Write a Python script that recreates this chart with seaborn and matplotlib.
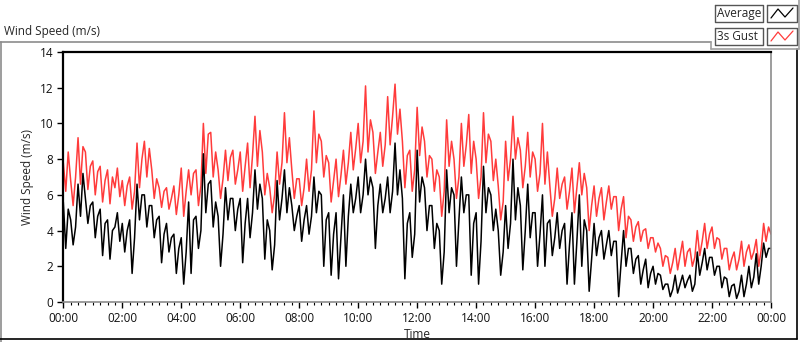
import numpy as np
import pandas as pd
import matplotlib.pyplot as plt
import seaborn as sns
from matplotlib.lines import Line2D
from matplotlib.ticker import MultipleLocator

# 3s gust, one value every 5 minutes (12 per hour), 00:00 -> 24:00
gust = [
    7.8, 6.2, 8.4, 6.8, 5.4, 7.0, 9.2, 6.6, 8.7, 8.4, 6.3, 7.6,
    7.9, 6.0, 7.3, 7.6, 5.6, 6.8, 7.4, 5.5, 7.0, 6.4, 7.5, 5.9,
    6.8, 5.4, 6.5, 7.0, 5.2, 6.2, 8.9, 6.4, 8.0, 9.0, 7.0, 8.6,
    7.4, 5.8, 6.9, 6.4, 5.3, 6.2, 6.4, 5.2, 5.8, 6.5, 4.9, 6.0,
    7.5, 4.8, 6.2, 7.4, 6.0, 7.2, 7.4, 5.4, 6.5, 10.0, 7.2, 9.4,
    9.5, 7.0, 8.4, 7.4, 5.8, 6.9, 8.5, 6.8, 8.1, 8.5, 6.6, 7.4,
    8.4, 6.2, 7.6, 8.9, 6.4, 8.2, 10.4, 7.6, 9.6, 8.4, 6.0, 7.2,
    6.4, 5.0, 6.0, 8.4, 6.6, 7.8, 10.6, 7.8, 9.2, 7.4, 5.8, 6.9,
    6.9, 5.4, 6.4, 8.0, 6.2, 7.4, 10.7, 7.8, 9.4, 9.0, 7.0, 8.2,
    7.8, 5.6, 6.8, 8.0, 5.9, 7.1, 8.5, 6.6, 7.8, 9.5, 7.4, 8.6,
    10.0, 7.8, 9.0, 12.1, 8.4, 10.2, 9.5, 7.2, 8.4, 9.5, 7.6, 8.8,
    11.5, 8.8, 10.4, 12.2, 9.4, 10.8, 9.0, 6.4, 8.2, 8.5, 6.2, 7.4,
    10.9, 8.2, 9.8, 9.0, 7.0, 8.2, 8.0, 6.2, 7.4, 7.0, 4.8, 6.2,
    10.2, 7.6, 9.0, 8.0, 5.8, 7.0, 10.0, 7.6, 8.8, 10.5, 7.2, 9.0,
    8.0, 5.8, 7.0, 10.6, 7.8, 9.4, 9.0, 6.8, 8.0, 6.5, 4.6, 5.6,
    9.0, 6.8, 8.0, 10.4, 8.0, 9.2, 8.5, 6.4, 7.6, 9.5, 7.0, 8.4,
    8.0, 6.2, 7.2, 10.0, 6.6, 8.4, 6.5, 4.8, 5.8, 7.5, 5.8, 6.6,
    7.0, 5.2, 6.2, 7.5, 5.0, 6.4, 7.8, 6.0, 7.2, 6.4, 4.0, 5.4,
    6.5, 4.8, 5.8, 6.4, 4.6, 5.6, 6.5, 5.2, 5.9, 5.9, 4.0, 5.2,
    5.9, 3.6, 4.8, 4.6, 3.4, 4.2, 4.5, 3.4, 4.0, 4.1, 3.0, 3.6,
    3.6, 2.8, 3.3, 3.0, 2.0, 2.6, 2.5, 1.6, 2.2, 3.0, 1.8, 2.6,
    3.4, 2.0, 2.8, 3.0, 2.0, 2.5, 4.0, 2.6, 3.4, 4.4, 3.0, 3.8,
    4.2, 3.0, 3.6, 3.5, 2.4, 3.0, 3.0, 1.8, 2.4, 2.8, 1.8, 2.4,
    3.4, 2.0, 2.8, 3.2, 2.4, 2.8, 3.5, 2.0, 2.9, 4.4, 3.4, 4.2,
    3.8,
]

# average wind speed, same time steps
average = [
    5.6, 3.0, 5.2, 4.6, 3.2, 4.2, 6.6, 4.8, 7.2, 5.8, 4.4, 5.4,
    5.6, 3.6, 4.8, 5.2, 2.6, 4.4, 4.6, 2.4, 4.0, 4.2, 5.0, 3.4,
    4.4, 2.8, 4.0, 4.6, 1.6, 3.6, 6.6, 4.6, 6.0, 6.0, 4.2, 5.4,
    5.4, 3.6, 4.6, 4.8, 2.2, 3.8, 4.4, 2.8, 3.6, 3.8, 1.6, 3.0,
    3.6, 1.0, 2.8, 5.6, 1.6, 4.6, 4.8, 3.0, 4.0, 8.3, 5.0, 6.6,
    6.8, 4.2, 5.6, 4.8, 2.0, 3.8, 6.4, 4.6, 5.8, 5.8, 4.0, 5.2,
    5.8, 2.2, 4.4, 5.8, 3.6, 5.0, 7.4, 5.2, 6.6, 5.8, 2.4, 4.6,
    4.0, 1.8, 3.2, 6.8, 4.6, 5.8, 7.4, 5.0, 6.4, 5.4, 4.0, 4.8,
    5.4, 3.4, 4.6, 5.4, 3.8, 4.8, 7.0, 5.0, 6.2, 6.0, 2.0, 4.6,
    5.0, 1.5, 3.8, 5.0, 1.3, 3.6, 6.0, 2.0, 4.8, 6.6, 5.0, 5.8,
    7.0, 5.0, 6.0, 8.0, 6.0, 7.0, 6.4, 3.0, 5.4, 6.6, 5.0, 5.8,
    7.0, 5.0, 6.2, 8.9, 6.0, 7.4, 5.8, 1.3, 4.4, 5.0, 2.5, 3.8,
    8.5, 5.6, 7.0, 6.4, 4.0, 5.4, 5.4, 3.0, 4.4, 4.0, 1.0, 2.8,
    7.4, 5.0, 6.4, 6.0, 2.0, 4.6, 7.0, 5.0, 6.0, 6.0, 1.5, 4.4,
    5.0, 1.0, 3.4, 7.6, 5.0, 6.4, 6.0, 4.0, 5.2, 4.0, 1.5, 2.8,
    5.4, 3.0, 4.4, 8.0, 4.6, 6.4, 5.4, 1.8, 4.0, 6.6, 3.6, 5.0,
    5.0, 2.0, 3.8, 6.0, 2.0, 4.4, 4.6, 2.6, 3.6, 5.0, 3.0, 4.0,
    4.4, 1.0, 3.2, 5.0, 1.0, 3.4, 6.0, 2.0, 4.6, 4.0, 0.6, 2.4,
    4.4, 2.6, 3.6, 4.0, 2.4, 3.2, 4.0, 2.6, 3.4, 3.4, 0.3, 2.2,
    4.0, 2.0, 3.0, 3.0, 1.6, 2.4, 2.6, 1.0, 1.8, 2.4, 0.8, 1.6,
    2.0, 1.0, 1.6, 1.5, 0.7, 1.0, 1.0, 0.3, 0.7, 1.5, 0.5, 1.0,
    1.5, 0.8, 1.2, 1.5, 0.6, 1.0, 2.8, 1.5, 2.2, 3.0, 1.8, 2.5,
    2.5, 1.5, 2.0, 2.0, 0.8, 1.4, 1.3, 0.3, 0.9, 1.0, 0.2, 0.6,
    1.5, 0.3, 1.0, 2.0, 0.8, 1.4, 2.7, 1.0, 2.0, 3.3, 2.5, 3.0,
    3.0,
]

hour_ticks = list(range(0, 25, 2))
hour_labels = ["00:00", "02:00", "04:00", "06:00", "08:00", "10:00", "12:00",
               "14:00", "16:00", "18:00", "20:00", "22:00", "00:00"]
y_ticks = [0, 2, 4, 6, 8, 10, 12, 14]

df = pd.DataFrame({
    "hour": np.arange(len(gust)) * 5 / 60,
    "gust": gust,
    "average": average,
})

sns.set_style("white")
plt.rcParams["font.family"] = ["Open Sans", "DejaVu Sans"]

fig = plt.figure(figsize=(8, 3.42), dpi=100)
ax = fig.add_axes([63.3 / 800, 1 - 302 / 342, (771 - 63.3) / 800, 250 / 342])

sns.lineplot(data=df, x="hour", y="gust", ax=ax, color="#ff3b3b", linewidth=1.1)
sns.lineplot(data=df, x="hour", y="average", ax=ax, color="black", linewidth=1.1)

ax.set_xlim(0, 24)
ax.set_ylim(0, 14)
ax.set_xticks(hour_ticks)
ax.set_xticklabels(hour_labels)
ax.xaxis.set_minor_locator(MultipleLocator(0.25))
ax.set_yticks(y_ticks)
ax.set_yticklabels([str(v) for v in y_ticks])
ax.tick_params(axis="both", which="major", direction="out", length=4, width=1,
               color="black", labelsize=8.5, labelcolor="#111111", pad=3,
               bottom=True, left=True)
ax.tick_params(axis="x", which="minor", direction="out", length=2.5, width=0.8,
               color="black", bottom=True)
ax.set_xlabel("Time", fontsize=8.5, labelpad=2)
ax.set_ylabel("Wind Speed (m/s)", fontsize=8.5, labelpad=4)

for side in ["left", "top"]:
    ax.spines[side].set_color("black")
    ax.spines[side].set_linewidth(1.6)
for side in ["right", "bottom"]:
    ax.spines[side].set_color("#8c8c8c")
    ax.spines[side].set_linewidth(1.2)

# panel decorations in pixel coordinates
def px_line(xs, ys, color, lw=1.2):
    fig.add_artist(Line2D([x / 800 for x in xs], [1 - y / 342 for y in ys],
                          transform=fig.transFigure, color=color, linewidth=lw))

px_line([0, 711], [42, 42], "#8c8c8c")
px_line([0.6, 0.6], [42, 342], "#8c8c8c")
px_line([0, 797], [339, 339], "black")
px_line([797, 797], [49, 339], "black")
px_line([711, 711], [42, 49], "#a0a0a0")
px_line([711, 799], [49, 49], "#a0a0a0")
px_line([799, 799], [0, 49], "#a0a0a0")

fig.text(4 / 800, 1 - 31 / 342, "Wind Speed (m/s)", fontsize=8.5, va="center", ha="left")

# legend: name boxes with line icons
for row, (name, col) in enumerate([("Average", "black"), ("3s Gust", "#ff3b3b")]):
    y0 = 5 + row * 23
    px_line([715, 763, 763, 715, 715], [y0, y0, y0 + 17, y0 + 17, y0], "#555555", lw=1)
    fig.text(717 / 800, 1 - (y0 + 8.5) / 342, name, fontsize=8.5, va="center", ha="left")
    px_line([767, 797, 797, 767, 767], [y0, y0, y0 + 17, y0 + 17, y0], "#555555", lw=1)
    px_line([771, 778, 785, 793], [y0 + 13, y0 + 4, y0 + 12, y0 + 3], col, lw=0.9)

fig.savefig("out.png", dpi=100)
plt.close(fig)
